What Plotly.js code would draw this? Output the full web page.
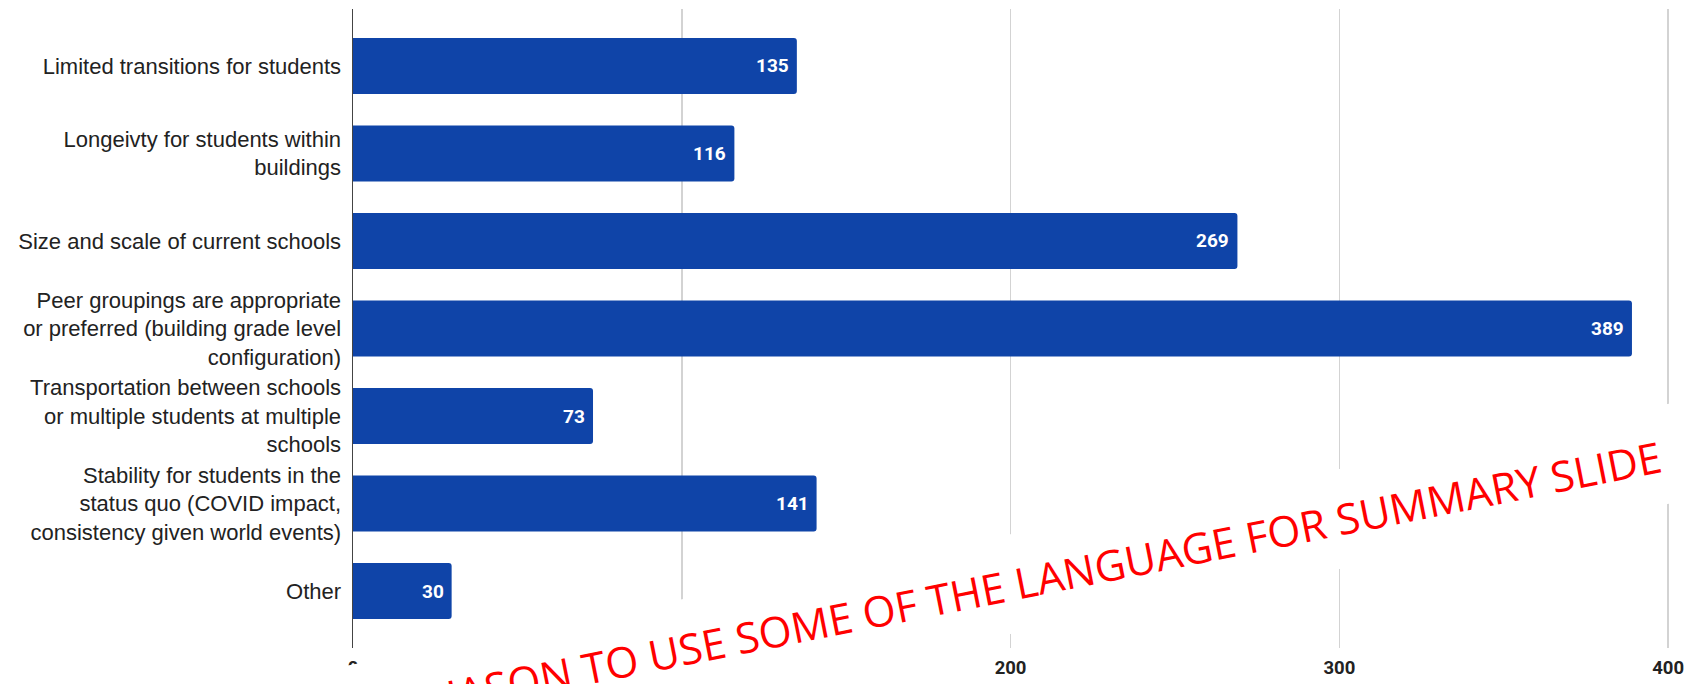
<!DOCTYPE html>
<html>
<head>
<meta charset="utf-8">
<script src="https://cdn.plot.ly/plotly-3.0.1.min.js"></script>
<style>
  html, body { margin: 0; padding: 0; background: #ffffff; }
  #chart { width: 1694px; height: 684px; }
</style>
</head>
<body>
<div id="chart"></div>
<script>
const categories = [
  "Limited transitions for students",
  "Longeivty for students within<br>buildings",
  "Size and scale of current schools",
  "Peer groupings are appropriate<br>or preferred (building grade level<br>configuration)",
  "Transportation between schools<br>or multiple students at multiple<br>schools",
  "Stability for students in the<br>status quo (COVID impact,<br>consistency given world events)",
  "Other"
];
const counts = [135, 116, 269, 389, 73, 141, 30];
const xTickValues = [0, 100, 200, 300, 400];
const xTickLabels = ["0", "100", "200", "300", "400"];
const overlayNote = "JASON TO USE SOME OF THE LANGUAGE FOR SUMMARY SLIDE";

const barTrace = {
  type: "bar",
  orientation: "h",
  x: counts,
  y: categories,
  marker: { color: "#0f44a8", cornerradius: 3, line: { width: 0 } },
  hoverinfo: "x+y"
};

const valueLabels = counts.map((v, i) => ({
  x: v,
  y: categories[i],
  xref: "x",
  yref: "y",
  text: String(v),
  showarrow: false,
  xanchor: "right",
  yanchor: "middle",
  xshift: -6,
  font: { family: "Roboto, Arial, sans-serif", size: 19, color: "#ffffff", weight: 700 }
}));

// white text box padding (non-breaking spaces keep the text centred)
const boxPad = "\u00a0".repeat(9);

const note = {
  xref: "paper",
  yref: "paper",
  x: 0.5295,
  y: 0.114,
  xanchor: "center",
  yanchor: "middle",
  text: boxPad + overlayNote + boxPad,
  showarrow: false,
  textangle: -11.2,
  bgcolor: "#ffffff",
  borderpad: 20,
  font: { family: "Open Sans, Noto Sans, sans-serif", size: 42.5, color: "#ff0000" }
};

const layout = {
  width: 1694,
  height: 684,
  margin: { l: 353, r: 17, t: 9, b: 36 },
  paper_bgcolor: "#ffffff",
  plot_bgcolor: "#ffffff",
  showlegend: false,
  bargap: 0.36,
  xaxis: {
    range: [0, 402.7],
    tickvals: xTickValues,
    ticktext: xTickLabels,
    showgrid: true,
    gridcolor: "#d3d3d3",
    gridwidth: 1.5,
    zeroline: false,
    showline: false,
    ticks: "",
    ticklabelstandoff: 6,
    tickfont: { family: "Roboto, Arial, sans-serif", size: 18.5, color: "#222222", weight: 700 }
  },
  yaxis: {
    type: "category",
    range: [6.65, -0.65],
    showgrid: false,
    zeroline: false,
    showline: true,
    linecolor: "#444444",
    linewidth: 1.5,
    ticks: "",
    ticklabelstandoff: 6,
    tickfont: { family: "Liberation Sans, Arial, sans-serif", size: 22, color: "#222222" }
  },
  annotations: valueLabels.concat([note])
};

Plotly.newPlot("chart", [barTrace], layout, { displayModeBar: false, staticPlot: true });
</script>
</body>
</html>
